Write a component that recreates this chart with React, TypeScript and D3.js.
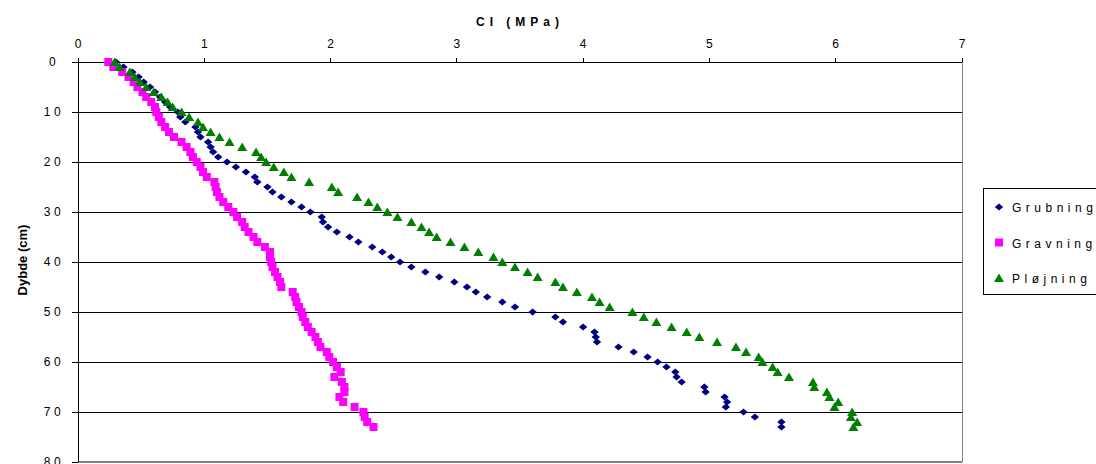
import React from "react";
import * as d3 from "d3";

// depth (cm) of each reading
const depths = [
  0, 1, 2, 3, 4, 5, 6, 7, 8, 9, 10, 11, 12, 13, 14, 15, 16, 17, 18, 19, 20,
  21, 22, 23, 24, 25, 26, 27, 28, 29, 30, 31, 32, 33, 34, 35, 36, 37, 38, 39,
  40, 41, 42, 43, 44, 45, 46, 47, 48, 49, 50, 51, 52, 53, 54, 55, 56, 57, 58,
  59, 60, 61, 62, 63, 64, 65, 66, 67, 68, 69, 70, 71, 72, 73,
];

// CI (MPa) per depth
const grubning = [
  0.3, 0.36, 0.43, 0.48, 0.52, 0.57, 0.61, 0.65, 0.69, 0.73, 0.79, 0.81, 0.85,
  0.93, 0.95, 0.97, 1.03, 1.05, 1.07, 1.11, 1.18, 1.25, 1.33, 1.4, 1.42, 1.5,
  1.54, 1.61, 1.69, 1.77, 1.84, 1.93, 1.94, 1.98, 2.05, 2.15, 2.22, 2.33, 2.41,
  2.48, 2.55, 2.64, 2.75, 2.86, 2.98, 3.08, 3.15, 3.24, 3.36, 3.46, 3.6, 3.78,
  3.84, 4.0, 4.09, 4.1, 4.11, 4.28, 4.4, 4.51, 4.59, 4.66, 4.73, 4.74, 4.78,
  4.96, 4.97, 5.12, 5.14, 5.13, 5.27, 5.36, 5.57, 5.57,
];
const gravning = [
  0.24, 0.28, 0.35, 0.4, 0.44, 0.47, 0.51, 0.54, 0.58, 0.61, 0.62, 0.64, 0.66,
  0.69, 0.72, 0.76, 0.82, 0.86, 0.89, 0.91, 0.94, 0.97, 0.99, 1.02, 1.08, 1.09,
  1.1, 1.12, 1.15, 1.19, 1.23, 1.26, 1.3, 1.32, 1.35, 1.39, 1.42, 1.48, 1.52,
  1.52, 1.53, 1.54, 1.56, 1.58, 1.6, 1.61, 1.7, 1.72, 1.73, 1.75, 1.77, 1.78,
  1.8, 1.82, 1.85, 1.88, 1.9, 1.92, 1.97, 1.99, 2.02, 2.05, 2.08, 2.03, 2.09,
  2.11, 2.11, 2.07, 2.1, 2.19, 2.26, 2.27, 2.29, 2.34,
];
const ploejning = [
  0.29, 0.33, 0.41, 0.45, 0.49, 0.54, 0.6, 0.66, 0.71, 0.75, 0.82, 0.88, 0.95,
  0.99, 1.05, 1.12, 1.2, 1.3, 1.41, 1.45, 1.49, 1.55, 1.63, 1.69, 1.83, 2.01,
  2.06, 2.21, 2.3, 2.37, 2.45, 2.53, 2.64, 2.72, 2.78, 2.84, 2.95, 3.06, 3.17,
  3.29, 3.36, 3.46, 3.56, 3.64, 3.78, 3.84, 3.95, 4.07, 4.13, 4.21, 4.39, 4.48,
  4.58, 4.7, 4.82, 4.92, 5.06, 5.21, 5.29, 5.39, 5.42, 5.5, 5.54, 5.63, 5.82,
  5.83, 5.93, 5.95, 6.02, 5.99, 6.13, 6.12, 6.17, 6.14,
];

const xTicks = [0, 1, 2, 3, 4, 5, 6, 7];
const yTicks = [0, 10, 20, 30, 40, 50, 60, 70, 80];

const seriesNames = ["Grubning", "Gravning", "Pløjning"];
const seriesColors = ["#000080", "#FF00FF", "#008000"];
const seriesValues = [grubning, gravning, ploejning];

const W = 1096;
const H = 464;
const font = "'Liberation Sans', Arial, sans-serif";

const marker = (i: number) => {
  if (i === 0) return "M0,-3.5L4.2,0L0,3.5L-4.2,0Z";
  if (i === 1) return "M-4,-4H4V4H-4Z";
  return "M0,-4.5L5,4L-5,4Z";
};

export default function App() {
  const x = d3.scaleLinear().domain([0, 7]).range([78, 962]);
  const y = d3.scaleLinear().domain([0, 80]).range([62, 462]);

  return (
    <svg
      width={W}
      height={H}
      style={{ position: "absolute", left: 0, top: 0, display: "block", background: "#fff" }}
      fontFamily={font}
    >
      {/* gridlines */}
      <g shapeRendering="crispEdges">
        {yTicks.slice(1, -1).map((t) => (
          <line key={t} x1={x(0)} x2={x(7)} y1={y(t)} y2={y(t)} stroke="#000" />
        ))}
        <line x1={x(0)} x2={x(7)} y1={y(80)} y2={y(80)} stroke="#808080" strokeWidth={2} />
        <line x1={x(7)} x2={x(7)} y1={y(0)} y2={y(80)} stroke="#808080" />
        {/* axes */}
        <line x1={x(0)} x2={x(7)} y1={y(0)} y2={y(0)} stroke="#000" />
        <line x1={x(0)} x2={x(0)} y1={y(0)} y2={y(80)} stroke="#000" />
        {xTicks.map((t) => (
          <line key={t} x1={x(t)} x2={x(t)} y1={y(0) - 4} y2={y(0)} stroke="#000" />
        ))}
        {yTicks.map((t) => (
          <line key={t} x1={x(0) - 6} x2={x(0)} y1={y(t)} y2={y(t)} stroke="#000" />
        ))}
      </g>

      {/* tick labels */}
      {xTicks.map((t) => (
        <text key={t} x={x(t)} y={48} textAnchor="middle" fontSize={12} fill="#000">
          {t}
        </text>
      ))}
      {yTicks.map((t) => (
        <text
          key={t}
          x={54}
          y={y(t) + 4}
          textAnchor="middle"
          fontSize={12}
          letterSpacing={3.5}
          fill="#000"
        >
          {t}
        </text>
      ))}

      {/* axis titles */}
      <text x={520} y={26} textAnchor="middle" fontSize={12} fontWeight="bold" letterSpacing={5}>
        CI (MPa)
      </text>
      <text
        transform={`translate(27,${260}) rotate(-90)`}
        textAnchor="middle"
        fontSize={13}
        fontWeight="bold"
      >
        Dybde (cm)
      </text>

      {/* markers */}
      {seriesValues.map((vals, si) => (
        <g key={si} fill={seriesColors[si]}>
          {vals.map((v, i) => (
            <path key={i} d={marker(si)} transform={`translate(${x(v)},${y(depths[i])})`} />
          ))}
        </g>
      ))}

      {/* legend */}
      <rect x={983.5} y={188.5} width={200} height={106} fill="#fff" stroke="#000" />
      {seriesNames.map((n, i) => (
        <g key={n} transform={`translate(0,${207 + i * 35.5})`}>
          <path d={marker(i)} fill={seriesColors[i]} transform="translate(999,0)" />
          <text x={1012} y={5} fontSize={12} letterSpacing={4.5} fill="#000">
            {n}
          </text>
        </g>
      ))}
    </svg>
  );
}
